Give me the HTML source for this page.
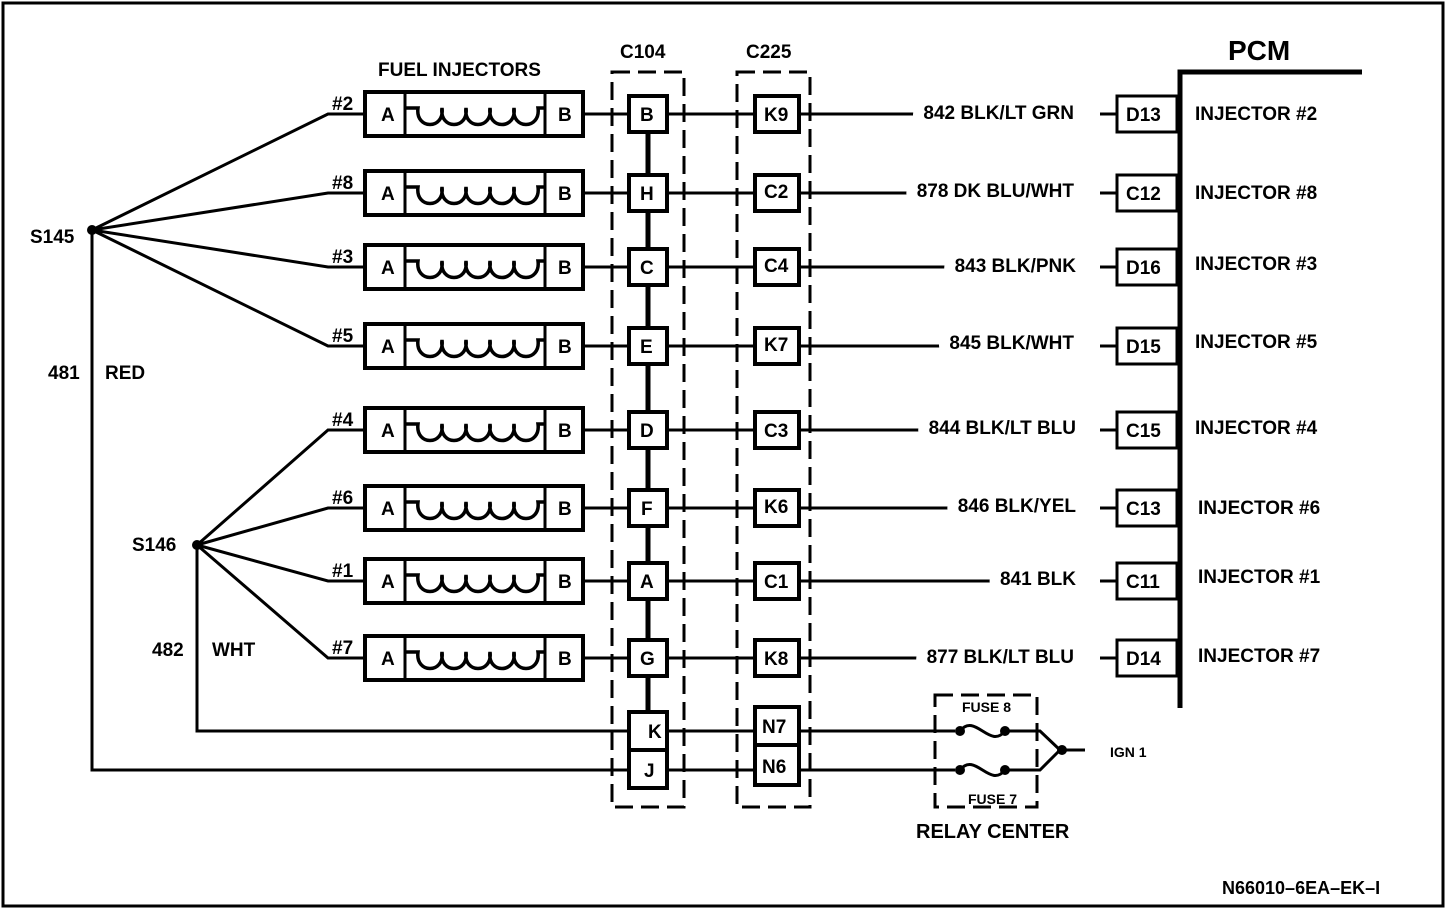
<!DOCTYPE html>
<html><head><style>
html,body{margin:0;padding:0;background:#fff}
svg{display:block}
text{font-family:"Liberation Sans",Arial,sans-serif;font-weight:bold;fill:#000}
.wl{paint-order:stroke;stroke:#fff;stroke-width:22px;stroke-linejoin:miter}
</style></head><body>
<svg width="1456" height="910" viewBox="0 0 1456 910" xmlns="http://www.w3.org/2000/svg">
<defs>
<g id="inj">
<g stroke="#000" stroke-width="3" fill="none"><path d="M583 0 H629 M667 0 H755 M799 0 H1075 M1100 0 H1117 M1177 0 H1180"/><rect x="365" y="-22" width="218" height="44" fill="#fff" stroke-width="4"/><path d="M405 -22 V22 M545 -22 V22"/><path d="M405 -6 H418 c-3 22 27 22 24 0 c-3 22 27 22 24 0 c-3 22 27 22 24 0 c-3 22 27 22 24 0 c-3 22 27 22 24 0 H545" stroke-width="3.5"/><rect x="629" y="-18" width="38" height="36" fill="#fff" stroke-width="4"/><rect x="755" y="-18" width="44" height="36" fill="#fff" stroke-width="4"/><rect x="1117" y="-18" width="60" height="36" fill="#fff" stroke-width="3"/></g>
<text x="381" y="7" font-size="19">A</text><text x="558" y="7" font-size="19">B</text>
</g>
</defs>
<rect x="3" y="3" width="1440" height="903" fill="none" stroke="#000" stroke-width="3"/>
<g stroke="#000" stroke-width="3" fill="none">
<rect x="612" y="72" width="72" height="735" stroke-dasharray="18,8"/>
<rect x="737" y="72" width="73" height="735" stroke-dasharray="18,8"/>
<rect x="935" y="695" width="102" height="112" stroke-dasharray="18,8"/>
<path d="M1180 708 V72 H1362" stroke-width="5"/>
<path d="M648 114 V712" stroke-width="5"/>
<path d="M92 230 L328 114 H365 M92 230 L328 193 H365 M92 230 L328 267 H365 M92 230 L328 346 H365"/>
<path d="M197 545 L328 430 H365 M197 545 L328 508 H365 M197 545 L328 581 H365 M197 545 L328 658 H365"/>
<path d="M92 230 V770 H629 M197 545 V731 H629"/>
<path d="M667 731 H755 M667 770 H755 M799 731 H955 M799 770 H955"/>
<path d="M960 731 C975 712 990 750 1005 731 M960 770 C975 751 990 789 1005 770"/>
<path d="M1005 731 H1040 L1060 750 M1005 770 H1040 L1060 750 M1060 750 H1085"/>
</g>
<g fill="#000">
<circle cx="92" cy="230" r="5"/><circle cx="197" cy="545" r="5"/>
<circle cx="960" cy="731" r="5"/><circle cx="1005" cy="731" r="5"/>
<circle cx="960" cy="770" r="5"/><circle cx="1005" cy="770" r="5"/>
<circle cx="1062" cy="750" r="5"/>
</g>
<text x="378" y="76" font-size="19">FUEL INJECTORS</text>
<text x="620" y="58" font-size="19">C104</text>
<text x="746" y="58" font-size="19">C225</text>
<text x="1228" y="60" font-size="28">PCM</text>
<text x="30" y="243" font-size="19">S145</text>
<text x="132" y="551" font-size="19">S146</text>
<text x="48" y="379" font-size="19">481</text>
<text x="105" y="379" font-size="19">RED</text>
<text x="152" y="656" font-size="19">482</text>
<text x="212" y="656" font-size="19">WHT</text>
<text x="962" y="712" font-size="14">FUSE 8</text>
<text x="968" y="804" font-size="14">FUSE 7</text>
<text x="916" y="838" font-size="20">RELAY CENTER</text>
<text x="1110" y="757" font-size="14">IGN 1</text>
<text x="1222" y="894" font-size="18" font-weight="normal">N66010–6EA–EK–I</text>

<g transform="translate(0,114)"><use href="#inj"/><text x="640" y="7" font-size="19">B</text><text x="764" y="7" font-size="19">K9</text><text x="1126" y="7" font-size="19">D13</text><text class="wl" x="1074" y="5" font-size="19" text-anchor="end">842 BLK/LT GRN</text><text x="1195" y="6" font-size="19">INJECTOR #2</text><text x="332" y="-4" font-size="19">#2</text></g>
<g transform="translate(0,193)"><use href="#inj"/><text x="640" y="7" font-size="19">H</text><text x="764" y="5" font-size="19">C2</text><text x="1126" y="7" font-size="19">C12</text><text class="wl" x="1074" y="4" font-size="19" text-anchor="end">878 DK BLU/WHT</text><text x="1195" y="6" font-size="19">INJECTOR #8</text><text x="332" y="-4" font-size="19">#8</text></g>
<g transform="translate(0,267)"><use href="#inj"/><text x="640" y="7" font-size="19">C</text><text x="764" y="5" font-size="19">C4</text><text x="1126" y="7" font-size="19">D16</text><text class="wl" x="1076" y="5" font-size="19" text-anchor="end">843 BLK/PNK</text><text x="1195" y="3" font-size="19">INJECTOR #3</text><text x="332" y="-4" font-size="19">#3</text></g>
<g transform="translate(0,346)"><use href="#inj"/><text x="640" y="7" font-size="19">E</text><text x="764" y="5" font-size="19">K7</text><text x="1126" y="7" font-size="19">D15</text><text class="wl" x="1074" y="3" font-size="19" text-anchor="end">845 BLK/WHT</text><text x="1195" y="2" font-size="19">INJECTOR #5</text><text x="332" y="-4" font-size="19">#5</text></g>
<g transform="translate(0,430)"><use href="#inj"/><text x="640" y="7" font-size="19">D</text><text x="764" y="7" font-size="19">C3</text><text x="1126" y="7" font-size="19">C15</text><text class="wl" x="1076" y="4" font-size="19" text-anchor="end">844 BLK/LT BLU</text><text x="1195" y="4" font-size="19">INJECTOR #4</text><text x="332" y="-4" font-size="19">#4</text></g>
<g transform="translate(0,508)"><use href="#inj"/><text x="641" y="7" font-size="19">F</text><text x="764" y="5" font-size="19">K6</text><text x="1126" y="7" font-size="19">C13</text><text class="wl" x="1076" y="4" font-size="19" text-anchor="end">846 BLK/YEL</text><text x="1198" y="6" font-size="19">INJECTOR #6</text><text x="332" y="-4" font-size="19">#6</text></g>
<g transform="translate(0,581)"><use href="#inj"/><text x="640" y="7" font-size="19">A</text><text x="764" y="7" font-size="19">C1</text><text x="1126" y="7" font-size="19">C11</text><text class="wl" x="1076" y="4" font-size="19" text-anchor="end">841 BLK</text><text x="1198" y="2" font-size="19">INJECTOR #1</text><text x="332" y="-4" font-size="19">#1</text></g>
<g transform="translate(0,658)"><use href="#inj"/><text x="640" y="7" font-size="19">G</text><text x="764" y="7" font-size="19">K8</text><text x="1126" y="7" font-size="19">D14</text><text class="wl" x="1074" y="5" font-size="19" text-anchor="end">877 BLK/LT BLU</text><text x="1198" y="4" font-size="19">INJECTOR #7</text><text x="332" y="-4" font-size="19">#7</text></g>

<g stroke="#000" stroke-width="4" fill="#fff">
<rect x="629" y="712" width="38" height="38"/><rect x="629" y="750" width="38" height="38"/>
<rect x="755" y="707" width="44" height="38"/><rect x="755" y="745" width="44" height="40"/>
</g>
<text x="648" y="738" font-size="19">K</text><text x="644" y="777" font-size="19">J</text>
<text x="762" y="733" font-size="19">N7</text><text x="762" y="773" font-size="19">N6</text>
</svg>
</body></html>
